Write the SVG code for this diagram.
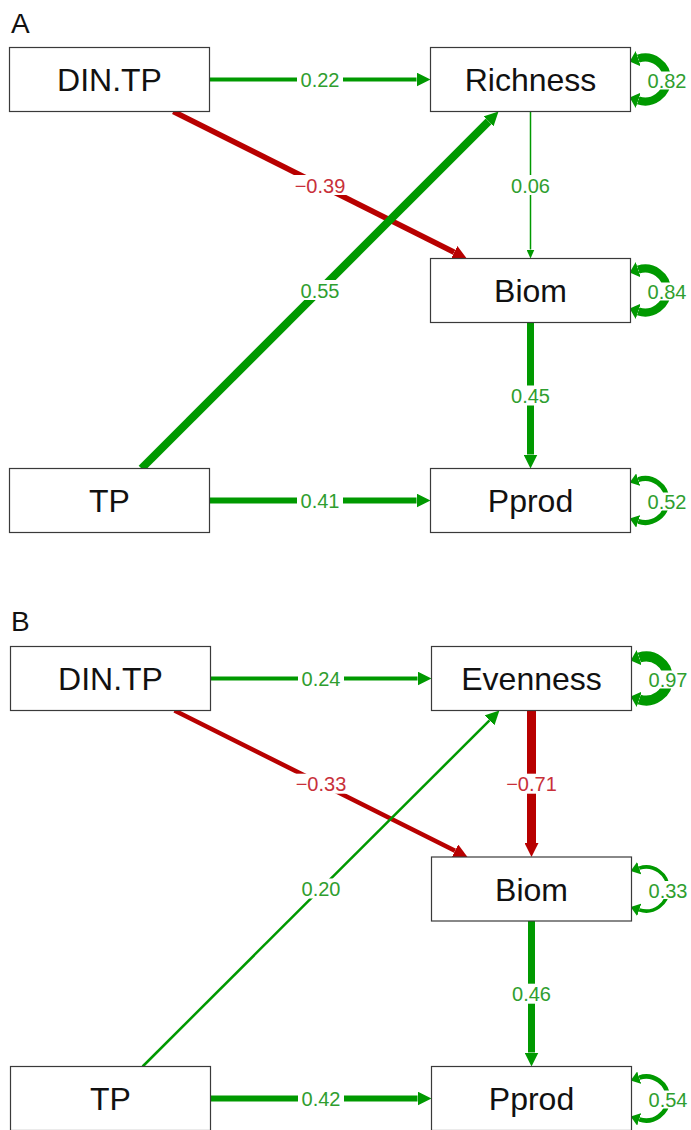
<svg xmlns="http://www.w3.org/2000/svg" width="691" height="1130" viewBox="0 0 691 1130">
<style>
.node rect{fill:#fff;stroke:#3a3a3a;stroke-width:1.2}
.node text{font-family:"Liberation Sans",Arial,sans-serif;font-size:32px;fill:#111;text-anchor:middle}
.panel{font-family:"Liberation Sans",Arial,sans-serif;font-size:28px;fill:#111}
.g{stroke:#009900;fill:none}
.r{stroke:#b80000;fill:none}
.lbg{fill:#fff}
.lg,.lr{font-family:"Liberation Sans",Arial,sans-serif;font-size:20px;text-anchor:middle}
.lg{fill:#2f9e2f}
.lr{fill:#c8303a}
</style>
<defs>
<marker id="aG" markerUnits="userSpaceOnUse" markerWidth="14" markerHeight="14" refX="0" refY="7" orient="auto"><path d="M0,0 L14,7 L0,14 z" fill="#009900"/></marker>
<marker id="aR" markerUnits="userSpaceOnUse" markerWidth="14" markerHeight="14" refX="0" refY="7" orient="auto"><path d="M0,0 L14,7 L0,14 z" fill="#b80000"/></marker>
<marker id="aGs" markerUnits="userSpaceOnUse" markerWidth="9" markerHeight="8" refX="0" refY="4" orient="auto"><path d="M0,0 L9,4 L0,8 z" fill="#009900"/></marker>
<marker id="lG" markerUnits="userSpaceOnUse" markerWidth="9" markerHeight="13" refX="0" refY="6.5" orient="auto-start-reverse"><path d="M0,0 L9,6.5 L0,13 z" fill="#009900"/></marker>
<marker id="lGb" markerUnits="userSpaceOnUse" markerWidth="9" markerHeight="16" refX="0" refY="8" orient="auto-start-reverse"><path d="M0,0 L9,8 L0,16 z" fill="#009900"/></marker>
</defs>

<text class="panel" x="11" y="33">A</text>
<text class="panel" x="11" y="631">B</text>

<g id="connectors">
<!-- Panel A -->
<line class="g" x1="209.5" y1="79.5" x2="416.5" y2="79.5" stroke-width="4" marker-end="url(#aG)"/>
<line class="r" x1="173.3" y1="111.5" x2="454.2" y2="252.2" stroke-width="5.5" marker-end="url(#aR)"/>
<line class="g" x1="141.5" y1="468.5" x2="488.6" y2="121.4" stroke-width="8" marker-end="url(#aG)"/>
<line class="g" x1="530.5" y1="111.5" x2="530.5" y2="249.5" stroke-width="1.5" marker-end="url(#aGs)"/>
<line class="g" x1="530.5" y1="322.5" x2="530.5" y2="454.5" stroke-width="7" marker-end="url(#aG)"/>
<line class="g" x1="209.5" y1="500.5" x2="416.5" y2="500.5" stroke-width="6" marker-end="url(#aG)"/>
<path class="g" d="M638.2,58.6 A22,22 0 1 1 638.2,100.4" stroke-width="8" marker-start="url(#lGb)" marker-end="url(#lGb)"/>
<path class="g" d="M638.2,269.6 A22,22 0 1 1 638.2,311.4" stroke-width="8" marker-start="url(#lGb)" marker-end="url(#lGb)"/>
<path class="g" d="M638.2,479.6 A22,22 0 1 1 638.2,521.4" stroke-width="5" marker-start="url(#lG)" marker-end="url(#lG)"/>
<!-- Panel B -->
<line class="g" x1="210.5" y1="678.5" x2="417.5" y2="678.5" stroke-width="4" marker-end="url(#aG)"/>
<line class="r" x1="174.5" y1="710.5" x2="455" y2="850.7" stroke-width="4.5" marker-end="url(#aR)"/>
<line class="g" x1="142.6" y1="1066.5" x2="489.5" y2="720.4" stroke-width="2.5" marker-end="url(#aG)"/>
<line class="r" x1="531.5" y1="710.5" x2="531.5" y2="843" stroke-width="9" marker-end="url(#aR)"/>
<line class="g" x1="531.5" y1="921" x2="531.5" y2="1052.5" stroke-width="7" marker-end="url(#aG)"/>
<line class="g" x1="210.5" y1="1098.5" x2="417.5" y2="1098.5" stroke-width="6" marker-end="url(#aG)"/>
<path class="g" d="M639.2,657.6 A22,22 0 1 1 639.2,699.4" stroke-width="10" marker-start="url(#lGb)" marker-end="url(#lGb)"/>
<path class="g" d="M639.2,868.1 A22,22 0 1 1 639.2,909.9" stroke-width="3.5" marker-start="url(#lG)" marker-end="url(#lG)"/>
<path class="g" d="M639.2,1077.6 A22,22 0 1 1 639.2,1119.4" stroke-width="4.5" marker-start="url(#lG)" marker-end="url(#lG)"/>

<!-- labels A -->
<rect class="lbg" x="297" y="69.5" width="46" height="20"/><text class="lg" x="320" y="87">0.22</text>
<rect class="lbg" x="292" y="175" width="56" height="20"/><text class="lr" x="320" y="192.5">−0.39</text>
<rect class="lbg" x="297" y="280" width="46" height="20"/><text class="lg" x="320" y="297.5">0.55</text>
<rect class="lbg" x="507.5" y="175" width="46" height="20"/><text class="lg" x="530.5" y="192.5">0.06</text>
<rect class="lbg" x="507.5" y="385.5" width="46" height="20"/><text class="lg" x="530.5" y="403">0.45</text>
<rect class="lbg" x="297" y="490.5" width="46" height="20"/><text class="lg" x="320" y="508">0.41</text>
<rect class="lbg" x="645" y="71.5" width="44" height="18"/><text class="lg" x="667" y="88">0.82</text>
<rect class="lbg" x="645" y="282.5" width="44" height="18"/><text class="lg" x="667" y="299">0.84</text>
<rect class="lbg" x="645" y="492.5" width="44" height="18"/><text class="lg" x="667" y="509">0.52</text>
<!-- labels B -->
<rect class="lbg" x="298" y="668.5" width="46" height="20"/><text class="lg" x="321" y="686">0.24</text>
<rect class="lbg" x="293" y="773.7" width="56" height="20"/><text class="lr" x="321" y="791.2">−0.33</text>
<rect class="lbg" x="298" y="878.5" width="46" height="20"/><text class="lg" x="321" y="896">0.20</text>
<rect class="lbg" x="503.5" y="773.7" width="56" height="20"/><text class="lr" x="531.5" y="791.2">−0.71</text>
<rect class="lbg" x="508.5" y="983.7" width="46" height="20"/><text class="lg" x="531.5" y="1001.2">0.46</text>
<rect class="lbg" x="298" y="1088.5" width="46" height="20"/><text class="lg" x="321" y="1106">0.42</text>
<rect class="lbg" x="646" y="670.5" width="44" height="18"/><text class="lg" x="668" y="687">0.97</text>
<rect class="lbg" x="646" y="881" width="44" height="18"/><text class="lg" x="668" y="897.5">0.33</text>
<rect class="lbg" x="646" y="1090.5" width="44" height="18"/><text class="lg" x="668" y="1107">0.54</text>
</g>

<g id="A-DINTP" class="node"><rect x="9.5" y="47.5" width="200" height="64"/><text x="109.5" y="91">DIN.TP</text></g>
<g id="A-Richness" class="node"><rect x="430.5" y="47.5" width="200" height="64"/><text x="530.5" y="91">Richness</text></g>
<g id="A-Biom" class="node"><rect x="430.5" y="258.5" width="200" height="64"/><text x="530.5" y="302">Biom</text></g>
<g id="A-TP" class="node"><rect x="9.5" y="468.5" width="200" height="64"/><text x="109.5" y="512">TP</text></g>
<g id="A-Pprod" class="node"><rect x="430.5" y="468.5" width="200" height="64"/><text x="530.5" y="512">Pprod</text></g>

<g id="B-DINTP" class="node"><rect x="10.5" y="646.5" width="200" height="64"/><text x="110.5" y="690">DIN.TP</text></g>
<g id="B-Evenness" class="node"><rect x="431.5" y="646.5" width="200" height="64"/><text x="531.5" y="690">Evenness</text></g>
<g id="B-Biom" class="node"><rect x="431.5" y="857" width="200" height="64"/><text x="531.5" y="900.5">Biom</text></g>
<g id="B-TP" class="node"><rect x="10.5" y="1066.5" width="200" height="64"/><text x="110.5" y="1110">TP</text></g>
<g id="B-Pprod" class="node"><rect x="431.5" y="1066.5" width="200" height="64"/><text x="531.5" y="1110">Pprod</text></g>
</svg>
